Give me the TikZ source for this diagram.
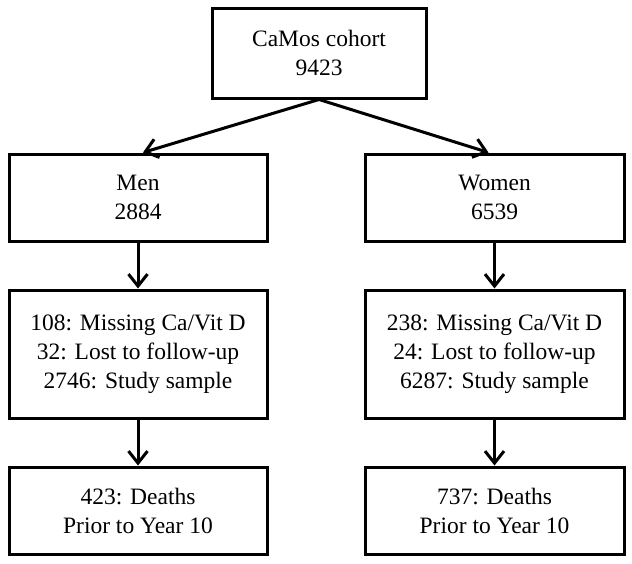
\documentclass[tikz,border=0pt]{standalone}
\usepackage{fontspec}
\setmainfont{Liberation Serif}
\usetikzlibrary{arrows.meta}

\begin{document}
\begin{tikzpicture}[x=1pt, y=-1pt,
  box/.style={draw=black, line width=3pt, align=center, inner sep=0pt,
              font=\fontsize{23.5}{29}\selectfont},
  arrow/.style={line width=3pt, -{Straight Barb[length=12pt,width=19pt]}}]

\useasboundingbox (0,0) rectangle (632,563);

 \node[box, minimum width=214pt, minimum height=90pt] (cohort) at (319,53) {CaMos cohort\\9423};

 \node[box, minimum width=258pt, minimum height=87pt] (men) at (138,197.5) {Men\\2884};
 \node[box, minimum width=259pt, minimum height=87pt] (women) at (494.5,197.5) {Women\\6539};

 \node[box, minimum width=258pt, minimum height=128pt] (menexcl) at (138,354)
      {108: Missing Ca/Vit D\\32: Lost to follow-up\\2746: Study sample};
 \node[box, minimum width=259pt, minimum height=128pt] (womenexcl) at (494.5,354)
      {238: Missing Ca/Vit D\\24: Lost to follow-up\\6287: Study sample};

 \node[box, minimum width=258pt, minimum height=87pt] (mendeaths) at (138,510.5)
      {423: Deaths\\Prior to Year 10};
 \node[box, minimum width=259pt, minimum height=87pt] (womendeaths) at (494.5,510.5)
      {737: Deaths\\Prior to Year 10};

 \draw[arrow] (cohort.south) -- ([xshift=5pt]men.north);
 \draw[arrow] (cohort.south) -- ([xshift=-6pt]women.north);
 \draw[arrow] (men) -- (menexcl);
 \draw[arrow] (women) -- (womenexcl);
 \draw[arrow] (menexcl) -- (mendeaths);
 \draw[arrow] (womenexcl) -- (womendeaths);
\end{tikzpicture}
\end{document}
